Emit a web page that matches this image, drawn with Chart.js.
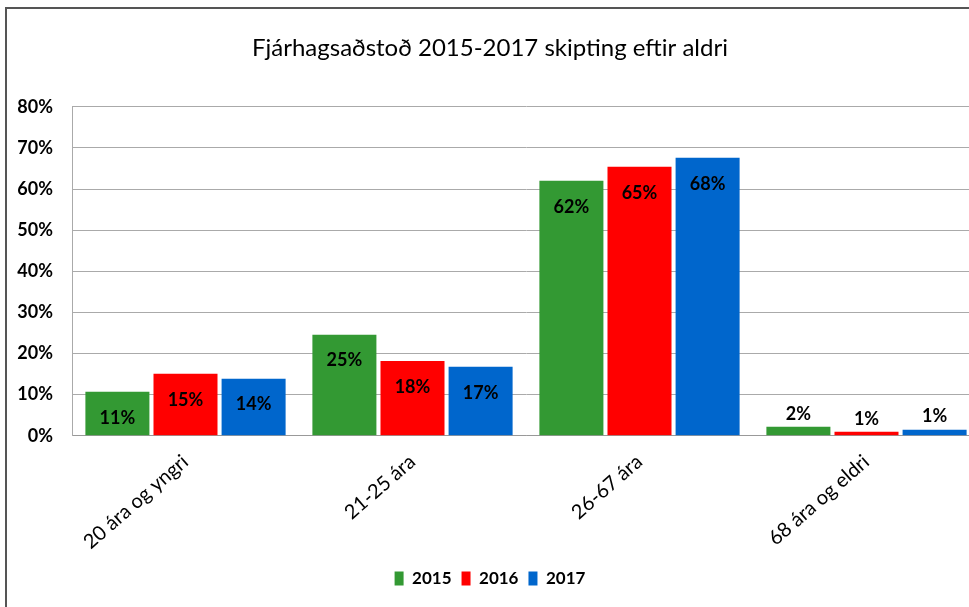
<!DOCTYPE html>
<html>
<head>
<meta charset="utf-8">
<script src="https://cdn.jsdelivr.net/npm/chart.js@4.4.1/dist/chart.umd.min.js"></script>
<style>
  html, body { margin: 0; padding: 0; background: #fff; overflow: hidden; }
  #wrap { position: relative; width: 969px; height: 607px; overflow: hidden; }
  #frame { position: absolute; left: 5px; top: 7px; width: 980px; height: 620px;
           border-left: 2px solid #555; border-top: 2px solid #555; pointer-events: none; }
  canvas { position: absolute; left: 0; top: 0; }
</style>
</head>
<body>
<div id="wrap">
  <canvas id="barChart" width="980" height="607"></canvas>
  <div id="frame"></div>
</div>
<script>
// chart data
const categories = ['20 ára og yngri', '21-25 ára', '26-67 ára', '68 ára og eldri'];
const years = ['2015', '2016', '2017'];
const values2015 = [10.7, 24.6, 62.0, 2.2];
const values2016 = [15.1, 18.2, 65.4, 1.0];
const values2017 = [13.9, 16.8, 67.6, 1.5];
const labels2015 = ['11%', '25%', '62%', '2%'];
const labels2016 = ['15%', '18%', '65%', '1%'];
const labels2017 = ['14%', '17%', '68%', '1%'];
const yTicks = [0, 10, 20, 30, 40, 50, 60, 70, 80];

const colors = ['#339933', '#ff0000', '#0066cc'];
const allLabels = [labels2015, labels2016, labels2017];

const ctx = document.getElementById('barChart').getContext('2d');

// draws the percentage text on each bar
const valueLabels = {
    id: 'valueLabels',
    afterDatasetsDraw(chart) {
        const c = chart.ctx;
        c.save();
        c.font = 'bold 18px Lato';
        c.fillStyle = '#000';
        c.textAlign = 'center';
        c.textBaseline = 'middle';
        chart.data.datasets.forEach((ds, i) => {
            const meta = chart.getDatasetMeta(i);
            meta.data.forEach((bar, j) => {
                const h = bar.base - bar.y;
                const y = h > 30 ? bar.y + 26 : bar.y - 13;
                c.fillText(allLabels[i][j], bar.x, y);
            });
        });
        c.restore();
    }
};

new Chart(ctx, {
    type: 'bar',
    data: {
        labels: categories,
        datasets: [
            { label: years[0], data: values2015, backgroundColor: colors[0] },
            { label: years[1], data: values2016, backgroundColor: colors[1] },
            { label: years[2], data: values2017, backgroundColor: colors[2] }
        ]
    },
    options: {
        responsive: false,
        animation: false,
        layout: { padding: { left: 0, right: 0, top: 0, bottom: 10 } },
        categoryPercentage: 0.9,
        barPercentage: 0.94,
        plugins: {
            title: {
                display: true,
                text: 'Fjárhagsaðstoð 2015-2017 skipting eftir aldri',
                color: '#000',
                font: { family: 'Lato', size: 24, weight: 'normal' },
                padding: { top: 34, bottom: 44 }
            },
            legend: {
                position: 'bottom',
                labels: {
                    color: '#000',
                    font: { family: 'Lato', size: 17, weight: 'bold' },
                    boxWidth: 9,
                    boxHeight: 14,
                    padding: 10
                }
            },
            tooltip: { enabled: false }
        },
        scales: {
            x: {
                grid: { display: false },
                border: { display: true, color: '#999' },
                ticks: {
                    color: '#000',
                    font: { family: 'Lato', size: 20 },
                    maxRotation: 41,
                    minRotation: 41,
                    padding: 6
                }
            },
            y: {
                min: 0,
                max: 80,
                afterBuildTicks: (axis) => {
                    axis.ticks = yTicks.map(v => ({ value: v }));
                },
                afterFit: (axis) => { axis.width = 72; },
                grid: { color: '#aaa', tickLength: 0 },
                border: { display: true, color: '#aaa' },
                ticks: {
                    color: '#000',
                    font: { family: 'Lato', size: 18, weight: 'bold' },
                    padding: 19,
                    callback: (v) => v + '%'
                }
            }
        }
    },
    plugins: [valueLabels]
});
</script>
</body>
</html>
